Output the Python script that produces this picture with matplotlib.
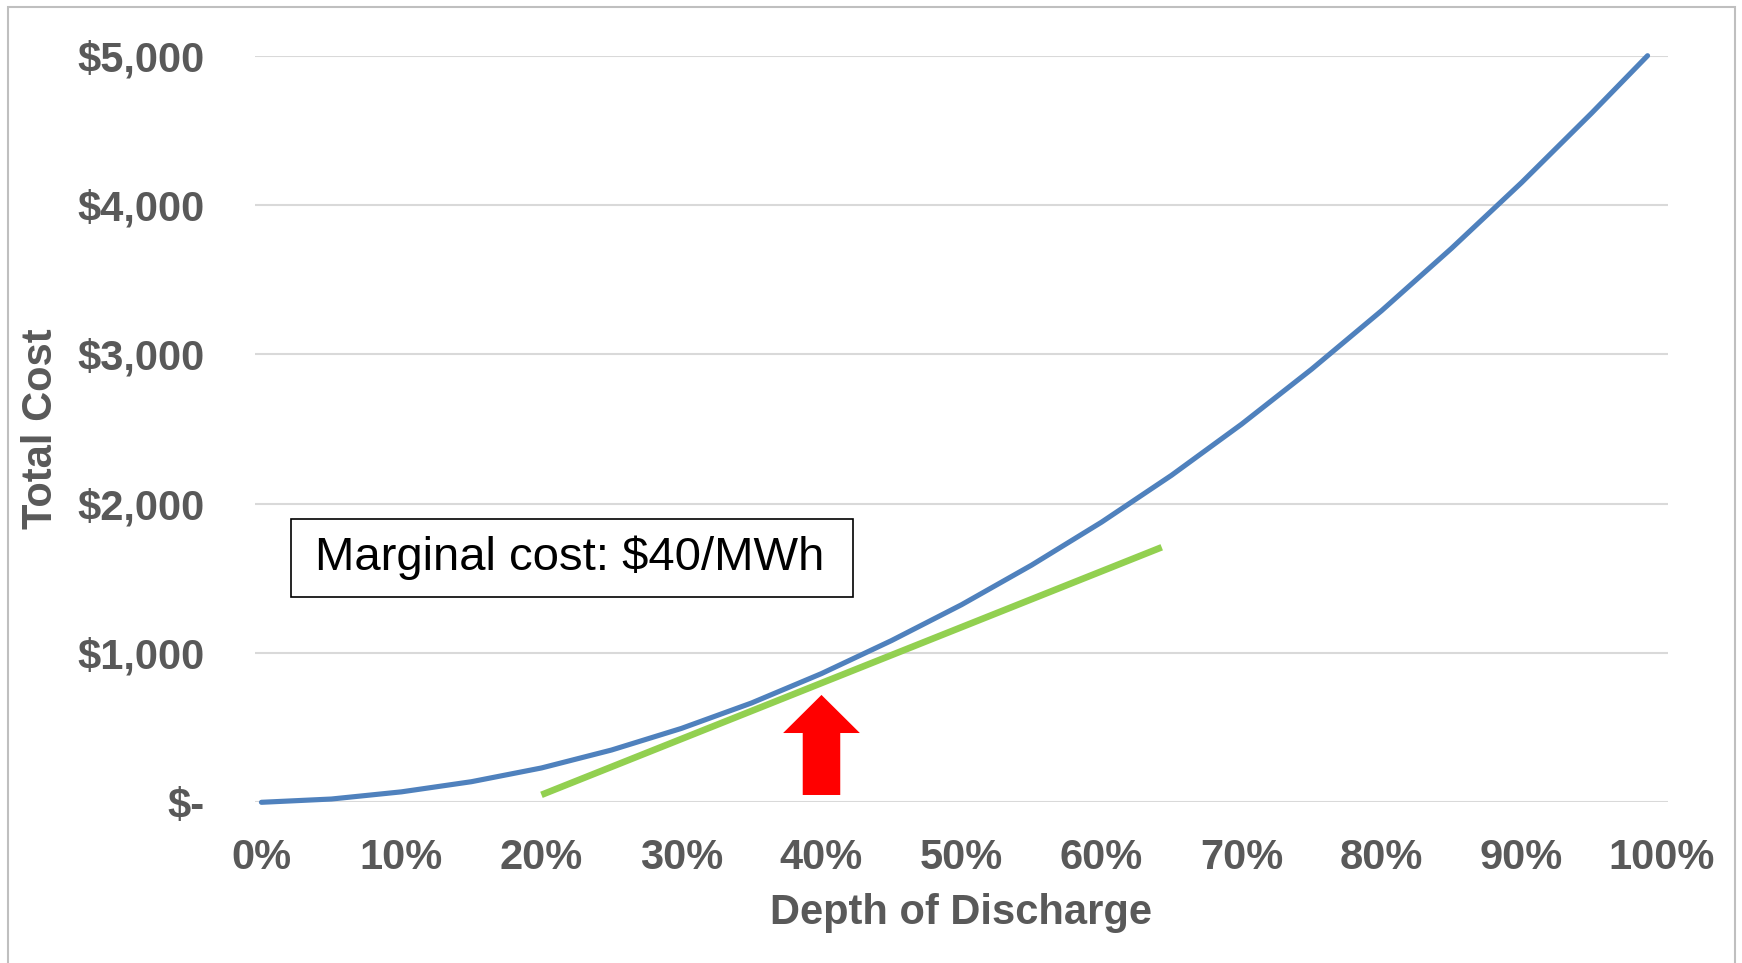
import matplotlib
matplotlib.use("Agg")
import matplotlib.pyplot as plt
from matplotlib.patches import Rectangle
from matplotlib.ticker import FuncFormatter

plt.rcParams['font.family'] = ['Liberation Sans', 'DejaVu Sans']

# Total cost curve
depth = [0.00, 0.05, 0.10, 0.15, 0.20, 0.25, 0.30, 0.35, 0.40, 0.45, 0.50,
         0.55, 0.60, 0.65, 0.70, 0.75, 0.80, 0.85, 0.90, 0.95, 0.99]
total_cost = [0, 22, 70, 138, 230, 350, 495, 665, 862, 1083, 1323,
              1588, 1876, 2190, 2532, 2900, 3292, 3710, 4150, 4615, 5000]

# Tangent (marginal cost) line end points
tangent_x = [0.20, 0.643]
tangent_y = [50, 1708]

# Red arrow marking the operating point
arrow_x = 0.40
arrow_base = 49
arrow_tip = 719

x_ticks = [0.0, 0.1, 0.2, 0.3, 0.4, 0.5, 0.6, 0.7, 0.8, 0.9, 1.0]
y_ticks = [0, 1000, 2000, 3000, 4000, 5000]
box_text = "Marginal cost: $40/MWh"

W, H = 1742, 963
fig = plt.figure(figsize=(W / 100, H / 100), dpi=100)
ax = fig.add_axes([255 / W, 1 - 802.3 / H, 1413 / W, 746.6 / H])

gray = '#595959'

ax.plot(depth, total_cost, color='#4F81BD', lw=3.7, solid_capstyle='round',
        solid_joinstyle='round', zorder=3, clip_on=False)
ax.plot(tangent_x, tangent_y, color='#92D050', lw=4.8, solid_capstyle='butt',
        zorder=4)
ax.arrow(arrow_x, arrow_base, 0, arrow_tip - arrow_base, width=0.0268,
         head_width=0.0548, head_length=255, length_includes_head=True,
         color='#FF0000', lw=0, zorder=5)

ax.set_xlim(-0.0046, 1.0046)
ax.set_ylim(0, 5000)
ax.set_xticks(x_ticks)
ax.set_yticks(y_ticks)
ax.xaxis.set_major_formatter(FuncFormatter(lambda v, p: f"{v * 100:.0f}%"))
ax.yaxis.set_major_formatter(FuncFormatter(lambda v, p: "$-" if v == 0 else f"${v:,.0f}"))
ax.tick_params(axis='both', length=0, labelsize=30, labelcolor=gray)
ax.tick_params(axis='y', pad=36)
ax.tick_params(axis='x', pad=26)
for lab in ax.get_xticklabels() + ax.get_yticklabels():
    lab.set_fontweight('bold')

ax.grid(axis='y', color='#D9D9D9', lw=1.5)
ax.set_axisbelow(True)
for s in ax.spines.values():
    s.set_visible(False)

ax.set_xlabel("Depth of Discharge", fontsize=30, fontweight='bold', color=gray)
ax.xaxis.label.set_va('center')
ax.xaxis.set_label_coords(0.5, -0.148)
ax.set_ylabel("Total Cost", fontsize=30, fontweight='bold', color=gray)
ax.yaxis.label.set_va('center')
ax.yaxis.set_label_coords(-0.1515, 0.5)

# annotation box
fig.patches.append(Rectangle((291 / W, 1 - 597 / H), 562 / W, 78 / H,
                             transform=fig.transFigure, fill=True,
                             facecolor='white', edgecolor='black', lw=1.2, zorder=6))
fig.text(570 / W, 1 - 558 / H, box_text, fontsize=34, color='black',
         ha='center', va='center', zorder=7)

# outer chart border
fig.patches.append(Rectangle((8 / W, -0.05), 1727 / W, 1.05 - 7 / H,
                             transform=fig.transFigure, fill=False,
                             edgecolor='#BFBFBF', lw=1.5))

fig.savefig("out.png", dpi=100)
